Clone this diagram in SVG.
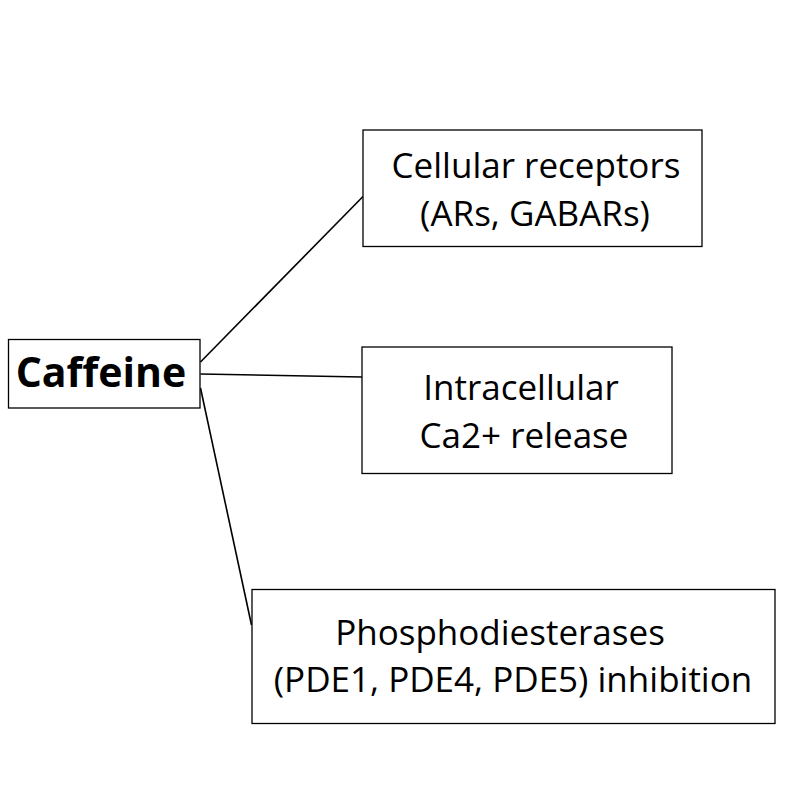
<svg xmlns="http://www.w3.org/2000/svg" width="800" height="800" viewBox="0 0 800 800">
<style>
.box{fill:#fff;stroke:#000;stroke-width:1.3}
.t{font-family:"Open Sans","Noto Sans",sans-serif;font-size:35px;fill:#000;text-anchor:middle}
.b{font-family:"Open Sans","Noto Sans",sans-serif;font-size:41px;font-weight:bold;fill:#000;text-anchor:middle}
.c{stroke:#000;stroke-width:1.6;fill:none}
</style>
<rect width="800" height="800" fill="#fff"/>
<g id="connectors">
<line class="c" x1="200.5" y1="362" x2="363" y2="196.5"/>
<line class="c" x1="200.5" y1="374" x2="362" y2="377"/>
<line class="c" x1="200.5" y1="388" x2="251.5" y2="625"/>
</g>
<g id="caffeine">
<rect class="box" x="8.5" y="339.5" width="191.5" height="68.5"/>
<text class="b" x="101" y="387">Caffeine</text>
</g>
<g id="receptors">
<rect class="box" x="363" y="130" width="339" height="116.5"/>
<text class="t" x="536" y="178">Cellular receptors</text>
<text class="t" x="535" y="226">(ARs, GABARs)</text>
</g>
<g id="calcium">
<rect class="box" x="362" y="347" width="310" height="126.5"/>
<text class="t" x="521" y="400">Intracellular</text>
<text class="t" x="524" y="448">Ca2+ release</text>
</g>
<g id="pde">
<rect class="box" x="252" y="589.5" width="523" height="134"/>
<text class="t" x="500" y="645">Phosphodiesterases</text>
<text class="t" x="513" y="692">(PDE1, PDE4, PDE5) inhibition</text>
</g>
</svg>
